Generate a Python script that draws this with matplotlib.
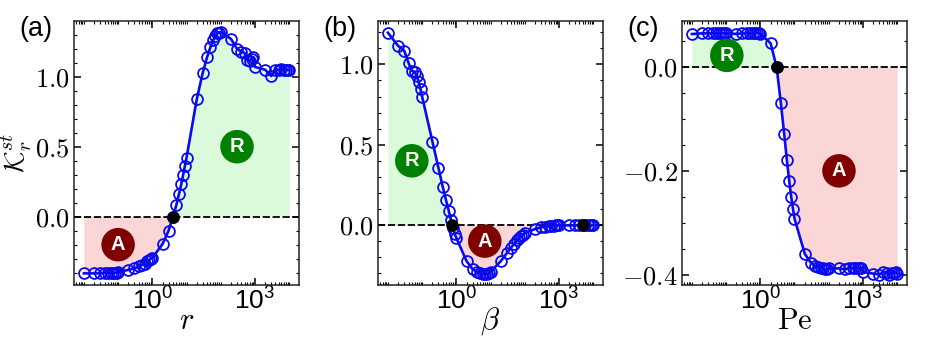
import matplotlib
matplotlib.use("Agg")
import numpy as np
import matplotlib.pyplot as plt
from matplotlib.ticker import FixedLocator, LogLocator, NullFormatter, FormatStrFormatter, LogFormatterMathtext

plt.rcParams['mathtext.fontset'] = 'cm'
plt.rcParams['font.family'] = ['Liberation Sans', 'DejaVu Sans']

# x grid shared by the three panels
x_vals = [0.01, 0.02, 0.03, 0.04, 0.05, 0.06, 0.07, 0.08, 0.09,
          0.1, 0.2, 0.3, 0.4, 0.5, 0.6, 0.7, 0.8, 0.9,
          1, 2, 3, 4, 5, 6, 7, 8, 9,
          10, 20, 30, 40, 50, 60, 70, 80, 90,
          100, 200, 300, 400, 500, 600, 700, 800, 900,
          1000, 2000, 3000, 4000, 5000, 6000, 7000, 8000, 9000,
          10000]

k_r = [-0.405, -0.405, -0.405, -0.402, -0.40, -0.40, -0.40, -0.40, -0.40,
       -0.395, -0.38, -0.37, -0.355, -0.345, -0.335, -0.32, -0.31, -0.30,
       -0.295, -0.195, -0.10, 0.0, 0.08, 0.16, 0.23, 0.30, 0.365,
       0.42, 0.84, 1.03, 1.14, 1.21, 1.26, 1.29, 1.31, 1.315,
       1.32, 1.27, 1.20, 1.18, 1.17, 1.12, 1.11, 1.13, 1.14,
       1.07, 1.05, 1.005, 1.05, 1.05, 1.055, 1.05, 1.05, 1.05,
       1.045]

k_beta = [1.197, 1.115, 1.085, 1.01, 0.96, 0.955, 0.93, 0.89, 0.845,
          0.80, 0.52, 0.357, 0.24, 0.155, 0.09, 0.03, -0.02, -0.055,
          -0.08, -0.225, -0.275, -0.29, -0.30, -0.305, -0.307, -0.305, -0.30,
          -0.29, -0.225, -0.175, -0.14, -0.115, -0.095, -0.08, -0.07, -0.06,
          -0.05, -0.025, -0.015, -0.01, -0.005, -0.005, -0.003, -0.002, -0.002,
          -0.002, -0.002, -0.002, -0.001, -0.001, -0.001, -0.001, -0.001, -0.001,
          -0.001]

k_pe = [0.0637, 0.065, 0.065, 0.065, 0.065, 0.065, 0.065, 0.065, 0.065,
        0.065, 0.064, 0.065, 0.065, 0.065, 0.066, 0.066, 0.066, 0.066,
        0.064, 0.046, 0.0, -0.07, -0.129, -0.18, -0.219, -0.25, -0.273,
        -0.292, -0.36, -0.377, -0.383, -0.385, -0.387, -0.388, -0.39, -0.39,
        -0.388, -0.388, -0.39, -0.387, -0.387, -0.387, -0.388, -0.387, -0.388,
        -0.395, -0.398, -0.40, -0.395, -0.397, -0.40, -0.397, -0.397, -0.395,
        -0.398]

zeros_r = [4.1]
zeros_beta = [0.76, 5000]
zeros_pe = [3.0]

panels = [
    # left px, series, zero points, ylim, major, minor, xlabel, tag, tag px, badges
    (74, k_r, zeros_r, (-0.488, 1.398), [0, 0.5, 1.0], 0.1, r'$r$', '(a)', 19,
     [('A', 0.1, -0.2, 'maroon'), ('R', 300, 0.5, 'green')]),
    (378, k_beta, zeros_beta, (-0.373, 1.27), [0, 0.5, 1.0], 0.1, r'$\beta$', '(b)', 323,
     [('R', 0.05, 0.4, 'green'), ('A', 6.8, -0.1, 'maroon')]),
    (682, k_pe, zeros_pe, (-0.42, 0.0888), [-0.4, -0.2, 0], 0.05, r'$\mathrm{Pe}$', '(c)', 627,
     [('R', 0.105, 0.0225, 'green'), ('A', 200, -0.2, 'maroon')]),
]

W, H = 926, 348
fig = plt.figure(figsize=(W / 100, H / 100), dpi=100)
x = np.array(x_vals, dtype=float)

for left, vals, zeros, ylim, major, minor, xlabel, tag, tag_px, badges in panels:
    ax = fig.add_axes([left / W, 1 - 285 / H, 225 / W, 264 / H])
    y = np.array(vals)
    ax.fill_between(x, y, 0, where=y >= 0, interpolate=True, color='lightgreen', alpha=0.32, lw=0)
    ax.fill_between(x, y, 0, where=y <= 0, interpolate=True, color='lightcoral', alpha=0.32, lw=0)
    ax.axhline(0, color='k', ls='--', lw=1.3, dashes=(4, 1.5), zorder=2)
    ax.plot(x, y, '-o', color='#0a0af0', lw=1.9, ms=7.8, mfc='none', mew=1.3, zorder=3)
    ax.plot(zeros, [0] * len(zeros), 'o', color='k', ms=8, zorder=4)

    for txt, bx, by, col in badges:
        ax.text(bx, by, txt, color='white', fontsize=14.5, fontweight='bold', ha='center', va='center',
                bbox=dict(boxstyle='circle,pad=0.36', fc=col, ec='none'), zorder=5)

    ax.set_xscale('log')
    ax.set_xlim(10 ** -2.29, 10 ** 4.29)
    ax.set_ylim(*ylim)
    ax.xaxis.set_major_locator(FixedLocator([1, 1000]))
    ax.xaxis.set_major_formatter(LogFormatterMathtext())
    ax.xaxis.set_minor_locator(LogLocator(base=10, subs=np.arange(1, 10), numticks=100))
    ax.xaxis.set_minor_formatter(NullFormatter())
    ax.yaxis.set_major_locator(FixedLocator(major))
    ax.yaxis.set_major_formatter(FormatStrFormatter('$%.1f$'))
    ax.yaxis.set_minor_locator(FixedLocator(np.arange(-0.5, 1.5, minor)))
    ax.tick_params(which='major', direction='in', top=True, right=True, length=5, width=1.1,
                   labelsize=19, pad=3)
    ax.tick_params(axis='x', which='major', pad=1.5)
    ax.tick_params(which='minor', direction='in', top=True, right=True, length=2.5, width=0.8)
    for sp in ax.spines.values():
        sp.set_linewidth(1.1)
        sp.set_color('#222222')

    ax.set_xlabel(xlabel, fontsize=22, va='center')
    ax.xaxis.set_label_coords(0.5, -0.135)
    fig.text(tag_px / W, 1 - 29 / H, tag, fontsize=19.5, ha='left', va='center')
    if tag == '(a)':
        ax.set_ylabel(r'$\mathcal{K}_r^{st}$', fontsize=20, va='center')
        ax.yaxis.set_label_coords((17 - left) / 225, 0.5)

fig.savefig('out.png', dpi=100)
